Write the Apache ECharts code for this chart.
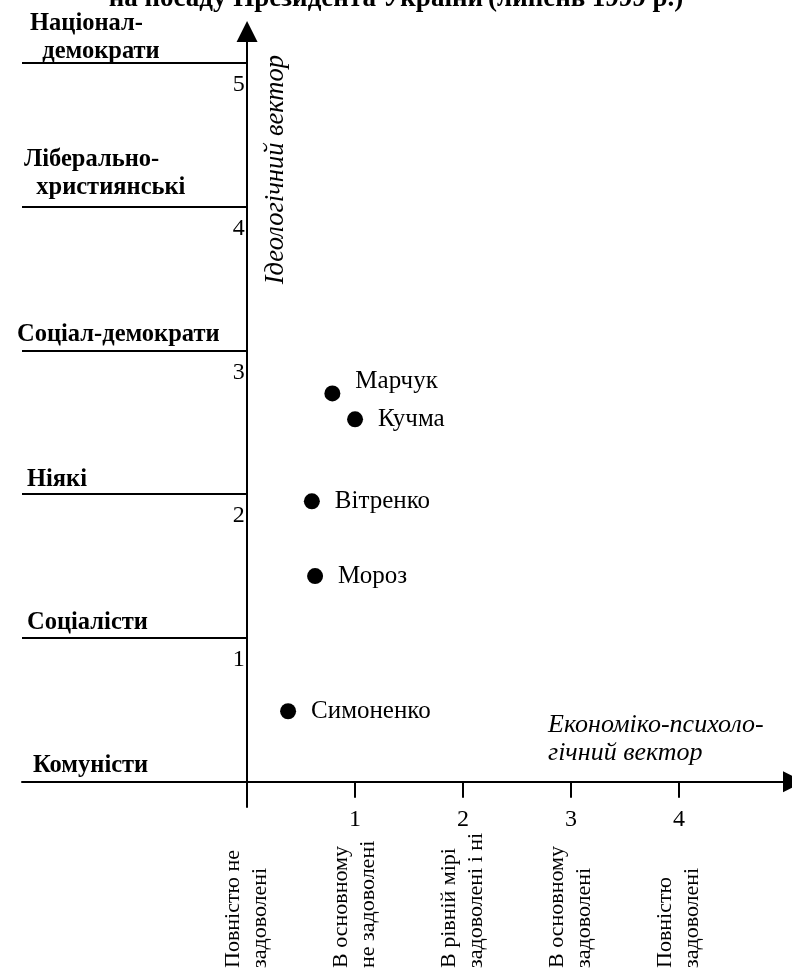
<!DOCTYPE html>
<html><head><meta charset="utf-8">
<script src="https://cdn.jsdelivr.net/npm/echarts@6/dist/echarts.min.js"></script>
<style>html,body{margin:0;padding:0;background:#fff}#c{width:792px;height:972px}</style>
</head><body><div id="c"></div>
<script>
// ---- data ----
const candidates = ['Марчук', 'Кучма', 'Вітренко', 'Мороз', 'Симоненко'];
const econValues = [0.79, 1.00, 0.60, 0.63, 0.38];
const ideologyValues = [2.70, 2.52, 1.95, 1.43, 0.49];
const ideologyLevels = [0, 1, 2, 3, 4, 5];
const ideologyNames = ['Комуністи', 'Соціалісти', 'Ніякі', 'Соціал-демократи', 'Ліберально-\n  християнські', 'Націонал-\n  демократи'];
const yTickLabels = [1, 2, 3, 4, 5];
const xTickLabels = [1, 2, 3, 4];
const econCategories = [0, 1, 2, 3, 4];
const econNames = ['Повністю не\nзадоволені', 'В основному\nне задоволені', 'В рівній мірі\nзадоволені і ні', 'В основному\nзадоволені', 'Повністю\nзадоволені'];
const titleBold = 'на посаду Президента України';
const titleRegular = '(липень 1999 р.)';
const yAxisName = 'Ідеологічний вектор';
const xAxisName = 'Економіко-психоло-\nгічний вектор';

// ---- styles ----
const FF = "'Liberation Serif', 'Times New Roman', serif";
const xMin = -2.084, xMax = 5.06, yMin = -0.176, yMax = 5.217;
const levelLabelShift = [[11, 2], [5, 1], [5, 0], [-5, 2], [2, 5], [8, -3]];
const candLabelOffset = {'Марчук': [0, -12]};

const chart = echarts.init(document.getElementById('c'), null, {renderer: 'canvas'});
const option = {
  backgroundColor: '#fff',
  animation: false,
  title: {
    text: '{b|' + titleBold + '} {r|' + titleRegular + '}',
    left: 'center', top: -19,
    textStyle: {rich: {
      b: {fontFamily: FF, fontSize: 27, fontWeight: 'bold', color: '#000'},
      r: {fontFamily: FF, fontSize: 27, color: '#000'}
    }}
  },
  grid: {left: 22, right: -1.5, top: 31.5, bottom: 165, containLabel: false, outerBoundsMode: 'none'},
  xAxis: [{
    type: 'value', min: xMin, max: xMax, position: 'bottom',
    axisLine: {onZero: true, symbol: ['none', 'triangle'], symbolSize: [21, 21], lineStyle: {color: '#000', width: 2}},
    axisTick: {show: true, customValues: xTickLabels, length: 16, lineStyle: {color: '#000', width: 2}},
    axisLabel: {customValues: xTickLabels, margin: 1, fontSize: 24, fontFamily: FF, color: '#000'},
    splitLine: {show: false},
    name: xAxisName, nameLocation: 'end', nameGap: -245.5, nameMoveOverlap: false,
    nameTextStyle: {fontFamily: FF, fontStyle: 'italic', fontSize: 26, color: '#000', align: 'left', verticalAlign: 'bottom', lineHeight: 28, padding: [0, 0, 15, 0]}
  }, {
    type: 'value', min: xMin, max: xMax, position: 'bottom',
    axisLine: {show: false, onZero: false},
    axisTick: {show: false},
    splitLine: {show: false},
    axisLabel: {
      customValues: econCategories,
      formatter: v => econNames[econCategories.indexOf(Math.round(v))],
      rotate: 90, align: 'left', margin: 161, fontSize: 22, lineHeight: 27, fontFamily: FF, color: '#000'
    }
  }],
  yAxis: {
    type: 'value', min: yMin, max: yMax,
    axisLine: {onZero: true, symbol: ['none', 'triangle'], symbolSize: [21, 21], lineStyle: {color: '#000', width: 2}},
    axisTick: {show: false},
    axisLabel: {customValues: yTickLabels, margin: -222.7, fontSize: 24, fontFamily: FF, color: '#000', verticalAlign: 'top', align: 'right', padding: [10, 0, 0, 0]},
    splitLine: {show: false},
    name: yAxisName, nameLocation: 'end', nameGap: -23.5, nameRotate: 90, nameMoveOverlap: false,
    nameTextStyle: {fontFamily: FF, fontStyle: 'italic', fontSize: 26.5, color: '#000', align: 'right', verticalAlign: 'top', padding: [15, 0, 0, 0]}
  },
  series: [{
    type: 'scatter', xAxisIndex: 0, yAxisIndex: 0,
    symbol: 'circle', symbolSize: 16,
    itemStyle: {color: '#000', opacity: 1},
    label: {show: true, position: 'right', distance: 15, formatter: '{b}', fontFamily: FF, fontSize: 25, color: '#000'},
    emphasis: {disabled: true},
    data: candidates.map((n, i) => ({
      name: n, value: [econValues[i], ideologyValues[i]],
      label: candLabelOffset[n] ? {offset: candLabelOffset[n]} : undefined
    })),
    markLine: {
      silent: true, symbol: 'none', animation: false,
      lineStyle: {color: '#000', width: 2, type: 'solid'},
      label: {show: true, position: 'insideStartTop', fontFamily: FF, fontSize: 24.5, fontWeight: 'bold', color: '#000', lineHeight: 28},
      emphasis: {disabled: true},
      data: ideologyLevels.map((lv, i) => [
        {coord: [xMin, lv], label: {formatter: ideologyNames[i], distance: levelLabelShift[i]}},
        {coord: [0, lv]}
      ])
    }
  }]
};
chart.setOption(option);
</script>
</body></html>
